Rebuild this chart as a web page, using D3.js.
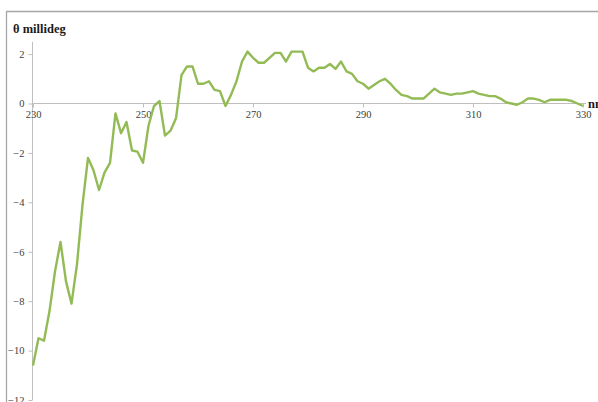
<!DOCTYPE html>
<html><head><meta charset="utf-8">
<script src="https://cdn.jsdelivr.net/npm/d3@7"></script>
<style>body{margin:0;background:#fff;overflow:hidden}svg{display:block}</style>
</head><body>
<script>
const wavelengths = d3.range(230, 331, 1);
const theta = [
-10.6,-9.5,-9.6,-8.4,-6.8,-5.6,-7.2,-8.1,-6.5,-4.1,
-2.2,-2.7,-3.5,-2.8,-2.4,-0.4,-1.2,-0.75,-1.9,-1.95,
-2.4,-0.9,-0.1,0.1,-1.3,-1.1,-0.6,1.15,1.5,1.5,
0.8,0.8,0.9,0.55,0.5,-0.1,0.35,0.9,1.7,2.1,
1.85,1.65,1.65,1.85,2.05,2.05,1.7,2.1,2.1,2.1,
1.45,1.3,1.45,1.45,1.6,1.4,1.7,1.3,1.2,0.9,
0.8,0.6,0.75,0.9,1.0,0.8,0.55,0.35,0.3,0.2,
0.2,0.2,0.4,0.6,0.45,0.4,0.35,0.4,0.4,0.45,
0.5,0.4,0.35,0.3,0.3,0.2,0.05,0.0,-0.05,0.05,
0.2,0.2,0.15,0.05,0.15,0.15,0.15,0.15,0.1,0.0,
-0.1];
const xTicks = [230, 250, 270, 290, 310, 330];
const yTicks = [-12, -10, -8, -6, -4, -2, 0, 2];

const W = 598, H = 402;
const svg = d3.select("body").append("svg").attr("width", W).attr("height", H);

// frame
svg.append("path").attr("d", `M6.5,${H} V11.5 H${W}`).attr("fill","none").attr("stroke","#a6a6a6").attr("stroke-width",1.3);

const x = d3.scaleLinear().domain([230, 330]).range([33, 583]);
const y = d3.scaleLinear().domain([-12, 2]).range([400, 54.1]);

const font = "'Liberation Serif', 'Times New Roman', serif";

// y axis
const yAxis = svg.append("g").attr("transform", `translate(${x(230)-0.5},0)`)
  .call(d3.axisLeft(y).tickValues(yTicks).tickSize(4).tickPadding(4).tickFormat(d3.format("d")));
yAxis.select(".domain").attr("d", `M0,${y(2.5)}V${y(-12)}`).attr("stroke","#bfbfbf");
yAxis.selectAll(".tick line").attr("stroke","#bfbfbf");
yAxis.selectAll(".tick text").attr("font-family",font).attr("font-size",10.5).attr("fill","#404040").attr("dx", 0).attr("dy","0.32em");

// x axis at y=0
const xAxis = svg.append("g").attr("transform", `translate(0,${y(0)})`)
  .call(d3.axisBottom(x).tickValues(xTicks).tickSize(4).tickPadding(3).tickFormat(d3.format("d")));
xAxis.select(".domain").attr("d", `M${x(230)},0H${x(330)+3}`).attr("stroke","#bfbfbf");
xAxis.selectAll(".tick line").attr("stroke","#bfbfbf");
xAxis.selectAll(".tick text").attr("font-family",font).attr("font-size",10.5).attr("fill","#404040");

// line
const line = d3.line().x((d,i)=>x(wavelengths[i])).y(d=>y(d));
svg.append("path").datum(theta).attr("d", line).attr("fill","none")
  .attr("stroke","#93bb55").attr("stroke-width",2.4).attr("stroke-linejoin","round");

// titles
svg.append("text").attr("x",13).attr("y",33).attr("font-family",font).attr("font-weight","bold")
  .attr("font-size",12.5).attr("fill","#1a1a1a").text("θ millideg");
svg.append("text").attr("x",588).attr("y",y(0)+4).attr("font-family",font).attr("font-weight","bold")
  .attr("font-size",12.5).attr("fill","#1a1a1a").text("nm");
</script>
</body></html>
